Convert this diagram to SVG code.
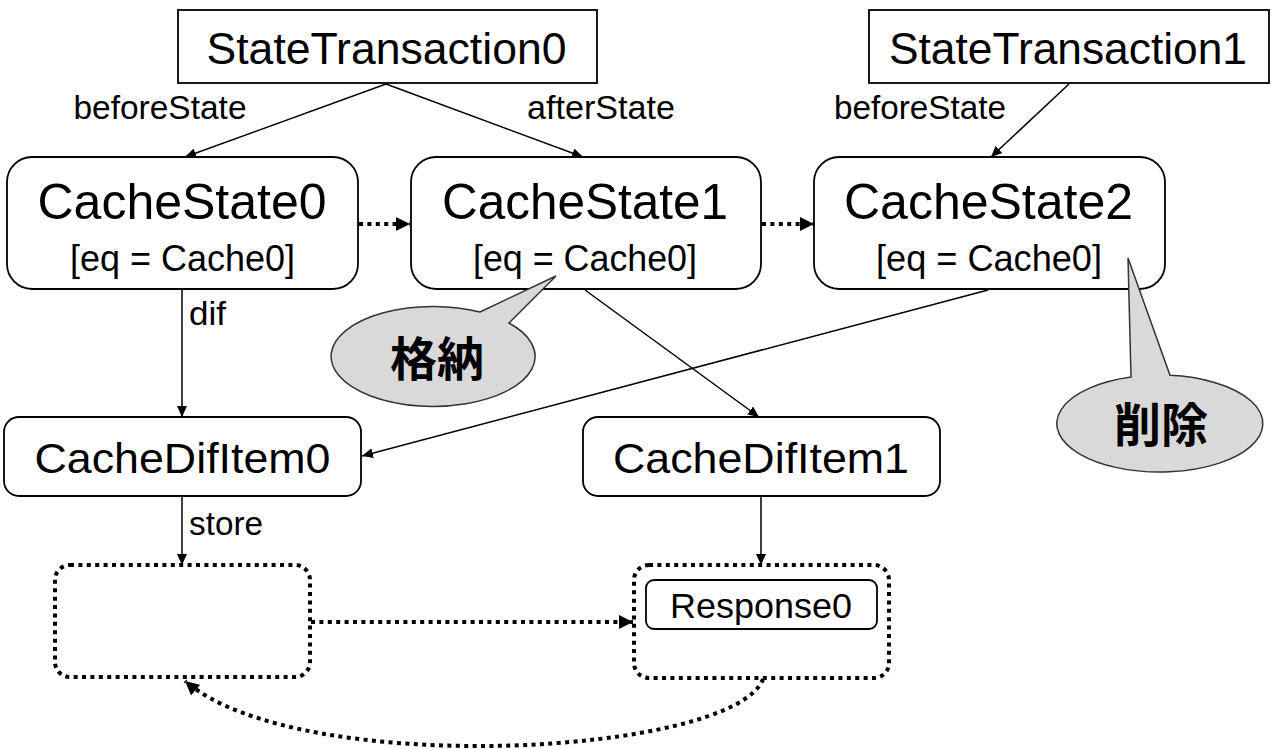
<svg xmlns="http://www.w3.org/2000/svg" width="1281" height="749" viewBox="0 0 1281 749">
<style>
.box{fill:#fff;stroke:#000;stroke-width:1.8}
.dbox{fill:none;stroke:#000;stroke-width:4;stroke-dasharray:4 4.4}
.t{font-family:"Liberation Sans",Arial,sans-serif;fill:#000}
.m{text-anchor:middle}
.ln{fill:none;stroke:#000;stroke-width:1.5}
.dl{fill:none;stroke:#000;stroke-width:4;stroke-dasharray:4 4.4}
.co{fill:#d9d9d9;stroke:#333;stroke-width:1.5}
.cj{font-family:"Liberation Sans","Noto Sans CJK JP",sans-serif;font-weight:bold;fill:#000;text-anchor:middle}
</style>
<defs>
<marker id="a" markerUnits="userSpaceOnUse" markerWidth="11" markerHeight="10" refX="11" refY="5" orient="auto"><path d="M0,0 L11,5 L0,10 z" fill="#000"/></marker>
<marker id="b" markerUnits="userSpaceOnUse" markerWidth="14" markerHeight="14" refX="14" refY="7" orient="auto"><path d="M0,0 L14,7 L0,14 z" fill="#000"/></marker>
</defs>
<rect width="1281" height="749" fill="#fff"/>

<g id="connectors">
<line class="ln" x1="386" y1="84" x2="185" y2="157" marker-end="url(#a)"/>
<line class="ln" x1="386" y1="84" x2="583" y2="157" marker-end="url(#a)"/>
<line class="ln" x1="1069" y1="84" x2="991" y2="157" marker-end="url(#a)"/>
<line class="dl" x1="359" y1="224" x2="410" y2="224" marker-end="url(#b)"/>
<line class="dl" x1="762" y1="224" x2="814" y2="224" marker-end="url(#b)"/>
<line class="ln" x1="182" y1="290" x2="182" y2="417" marker-end="url(#a)"/>
<line class="ln" x1="585" y1="290" x2="759" y2="417" marker-end="url(#a)"/>
<line class="ln" x1="988" y1="290" x2="362" y2="456" marker-end="url(#a)"/>
<line class="ln" x1="182" y1="497" x2="182" y2="565" marker-end="url(#a)"/>
<line class="ln" x1="761" y1="497" x2="761" y2="565" marker-end="url(#a)"/>
<line class="dl" x1="311" y1="622" x2="633" y2="622" marker-end="url(#b)"/>
<path class="dl" d="M763,679 C735,755 300,780 185,681" marker-end="url(#b)"/>
<text class="t" x="73.5" y="119" font-size="33.5" textLength="173" lengthAdjust="spacingAndGlyphs">beforeState</text>
<text class="t" x="527" y="119" font-size="33.5" textLength="148" lengthAdjust="spacingAndGlyphs">afterState</text>
<text class="t" x="834" y="119" font-size="33.5" textLength="172" lengthAdjust="spacingAndGlyphs">beforeState</text>
<text class="t" x="189" y="325" font-size="33.5" textLength="37" lengthAdjust="spacingAndGlyphs">dif</text>
<text class="t" x="189" y="535" font-size="33.5" textLength="74" lengthAdjust="spacingAndGlyphs">store</text>
</g>

<g id="StateTransaction0">
<rect class="box" x="178" y="10" width="419" height="73"/>
<text class="t m" x="386.5" y="64" font-size="44.5" textLength="360" lengthAdjust="spacingAndGlyphs">StateTransaction0</text>
</g>
<g id="StateTransaction1">
<rect class="box" x="869" y="10" width="400" height="73"/>
<text class="t m" x="1068" y="64" font-size="44.5" textLength="358" lengthAdjust="spacingAndGlyphs">StateTransaction1</text>
</g>

<g id="CacheState0">
<rect class="box" x="7" y="157" width="351" height="132" rx="25"/>
<text class="t m" x="182" y="219" font-size="50" textLength="289" lengthAdjust="spacingAndGlyphs">CacheState0</text>
<text class="t m" x="182.5" y="271" font-size="36" textLength="225" lengthAdjust="spacingAndGlyphs">[eq = Cache0]</text>
</g>
<g id="CacheState1">
<rect class="box" x="411" y="157" width="350" height="132" rx="25"/>
<text class="t m" x="585" y="219" font-size="50" textLength="286" lengthAdjust="spacingAndGlyphs">CacheState1</text>
<text class="t m" x="585" y="271" font-size="36" textLength="224" lengthAdjust="spacingAndGlyphs">[eq = Cache0]</text>
</g>
<g id="CacheState2">
<rect class="box" x="814" y="157" width="351" height="132" rx="25"/>
<text class="t m" x="988.5" y="219" font-size="50" textLength="289" lengthAdjust="spacingAndGlyphs">CacheState2</text>
<text class="t m" x="989" y="271" font-size="36" textLength="226" lengthAdjust="spacingAndGlyphs">[eq = Cache0]</text>
</g>

<g id="CacheDifItem0">
<rect class="box" x="4" y="417" width="357" height="79" rx="15"/>
<text class="t m" x="182.5" y="473" font-size="43" textLength="296" lengthAdjust="spacingAndGlyphs">CacheDifItem0</text>
</g>
<g id="CacheDifItem1">
<rect class="box" x="583" y="417" width="357" height="79" rx="15"/>
<text class="t m" x="761" y="473" font-size="43" textLength="296" lengthAdjust="spacingAndGlyphs">CacheDifItem1</text>
</g>

<g id="Store0">
<rect class="dbox" x="55" y="565" width="255" height="112" rx="15"/>
</g>
<g id="Store1">
<rect class="dbox" x="634" y="565" width="255" height="113" rx="15"/>
<g id="Response0">
<rect class="box" x="646" y="580" width="231" height="49" rx="8"/>
<text class="t m" x="761" y="618" font-size="35" textLength="182" lengthAdjust="spacingAndGlyphs">Response0</text>
</g>
</g>

<g id="callout-store">
<path class="co" d="M480,312 L556,276 L509,323 A102,50 0 1 1 480,312 Z"/>
<text class="cj" x="437" y="376" font-size="47">格納</text>
</g>
<g id="callout-delete">
<path class="co" d="M1131,377 L1128,258 L1170,375.3 A103,48.5 0 1 1 1131,377 Z"/>
<text class="cj" x="1161" y="442" font-size="47">削除</text>
</g>
</svg>
